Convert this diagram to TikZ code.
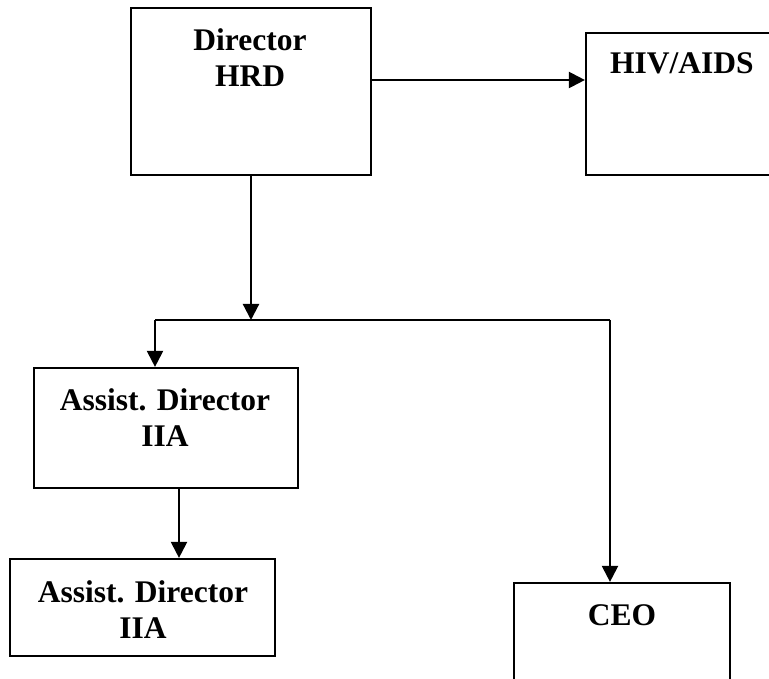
\documentclass[tikz,border=0pt]{standalone}
\usepackage{fontspec}
\setmainfont{Liberation Serif}
\usetikzlibrary{arrows.meta}
\begin{document}
\begin{tikzpicture}[x=1pt,y=-1pt,
  box/.style={draw=black, line width=2.2pt, rectangle, inner sep=0pt, fill=none},
  lbl/.style={anchor=north, align=center, inner sep=0pt,
    font=\fontsize{31.5}{36}\selectfont\bfseries},
  link/.style={line width=2.2pt},
  arr/.style={line width=2.2pt, -{Triangle[width=16pt,length=16pt]}}]
\useasboundingbox (0,0) rectangle (769,679);

% boxes
\node[box, minimum width=240pt, minimum height=167pt] (dir) at (251,91.5) {};
\node[box, minimum width=192pt, minimum height=142pt] (hiv) at (682,104) {};
\node[box, minimum width=264pt, minimum height=120pt] (ad1) at (166,428) {};
\node[box, minimum width=265pt, minimum height=97pt]  (ad2) at (142.5,607.5) {};
\node[box, minimum width=216pt, minimum height=140pt] (ceo) at (622,653) {};

% titles
\node[lbl] (dirT) at (250,28) {Director\\HRD};
\node[lbl] (hivT) at (682,52) {HIV/AIDS};
\node[lbl] (ad1T) at (165,388) {Assist. Director\\IIA};
\node[lbl] (ad2T) at (143,580) {Assist. Director\\IIA};
\node[lbl] (ceoT) at (622,604) {CEO};

% branch points
\coordinate (j)  at (251,320);
\coordinate (jl) at (155,320);
\coordinate (jr) at (610,320);

% connectors
\draw[arr] ([yshift=11.5pt]dir.east) coordinate (s) -- (s -| hiv.west);
\draw[arr] (dir.south) -- (j);
\draw[link] (jl) -- (jr);
\draw[arr] (jl) -- (jl |- ad1.north);
\draw[arr] (jr) -- (jr |- ceo.north);
\draw[arr] ([xshift=13pt]ad1.south) coordinate (d) -- (d |- ad2.north);
\end{tikzpicture}
\end{document}
